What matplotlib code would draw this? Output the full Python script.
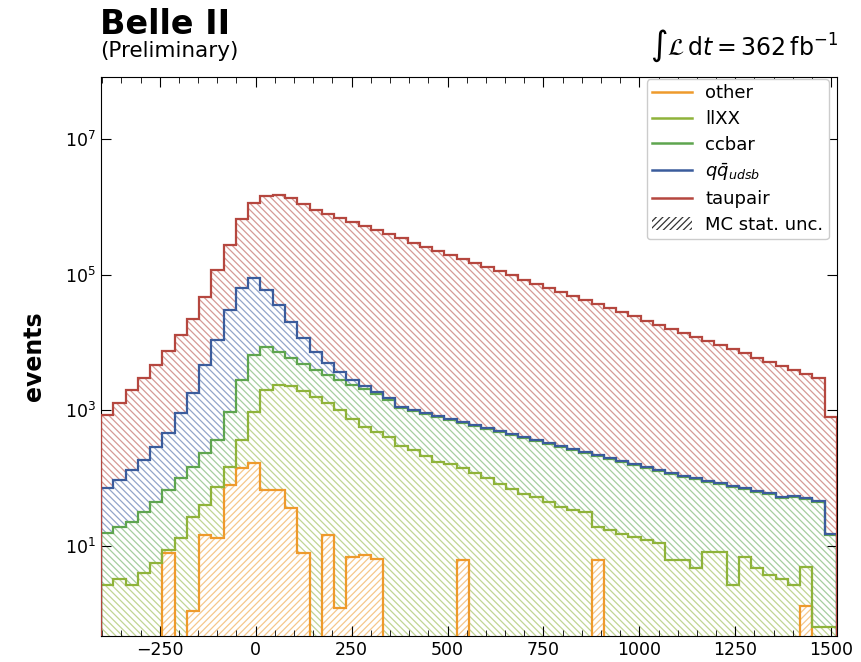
import numpy as np
import matplotlib
matplotlib.use("Agg")
import matplotlib.pyplot as plt
from matplotlib.lines import Line2D
from matplotlib.patches import Patch
from matplotlib.colors import to_rgb

# ---------------- data ----------------
bin_lo, bin_hi, n_bins = -403, 1515, 60

other = [0, 0, 0, 0, 0, 7.9, 0, 1.1, 14.5, 13.1,
         79, 141, 167, 67, 67, 36, 7.9, 0, 14.5, 1.2,
         6.9, 7.4, 6.4, 0, 0, 0, 0, 0, 0, 6.2,
         0, 0, 0, 0, 0, 0, 0, 0, 0, 0,
         6.2, 0, 0, 0, 0, 0, 0, 0, 0, 0,
         0, 0, 0, 0, 0, 0, 0, 1.3, 0, 0]

llxx = [2.7, 3.3, 2.7, 4.0, 5.6, 0.8, 13, 26, 26, 61,
        67, 225, 780, 1930, 2300, 2250, 1920, 1580, 1270, 1010,
        740, 560, 475, 405, 300, 260, 212, 173, 162, 135,
        119, 101, 82, 69, 58, 53, 44, 38, 34, 32,
        13, 17, 15, 13.6, 12.3, 11, 6.2, 6.2, 4.7, 8.2,
        8.2, 2.7, 6.9, 4.7, 3.7, 3.2, 2.7, 3.6, 0.64, 0.64]

ccbar = [13, 16, 20, 28, 39, 58, 88, 119, 195, 292,
         800, 2440, 5610, 6610, 4890, 3640, 2900, 2360, 2050, 1800,
         1620, 1500, 1270, 1030, 780, 715, 668, 622, 557, 508,
         467, 428, 396, 363, 331, 299, 273, 250, 225, 203,
         193, 175, 157, 142, 128, 116, 108, 97, 92, 79,
         74, 71, 62, 57, 55, 48, 50, 44, 44, 14]

qq = [56, 74, 109, 154, 244, 397, 815, 1660, 4450, 10500,
      29300, 61100, 83100, 51100, 28600, 14200, 6870, 3320, 1670, 870,
      440, 220, 130, 80, 40, 37, 33, 30, 27, 25,
      22, 20, 18, 16, 15, 13, 12, 11, 10, 9,
      8, 7, 6.5, 6, 5.5, 5, 4.5, 4, 3.5, 3.5,
      3, 3, 2.5, 2.5, 2, 2, 2, 2, 1.5, 0.5]

taupair = [783, 1190, 1870, 2820, 4390, 7060, 12000, 20500, 42400, 107000,
           245000, 601000, 1060000, 1390000, 1460000, 1340000, 1100000, 896000, 781000, 680000,
           593000, 516000, 449000, 390000, 340000, 296000, 257000, 224000, 194000, 169000,
           147000, 128000, 111500, 96800, 84300, 73200, 63800, 55400, 48200, 42000,
           36500, 31700, 27600, 24000, 20900, 18200, 15800, 13700, 12000, 10400,
           9030, 7850, 6830, 5930, 5160, 4490, 3890, 3390, 2940, 784]

labels = ["other", "llXX", "ccbar", r"$q\bar{q}_{udsb}$", "taupair"]
colors = ["#ee9a2c", "#8fb33a", "#5ea54f", "#3b5c9c", "#b5473f"]
hatches = ["/////", "\\\\\\\\\\", "\\\\\\\\\\", "\\\\\\\\\\", "\\\\\\\\\\"]

# ---------------- plot ----------------
plt.rcParams["font.family"] = ["DejaVu Sans"]
plt.rcParams["hatch.linewidth"] = 0.9
W, H = 861, 662
fig = plt.figure(figsize=(W / 100, H / 100), dpi=100)
ax = fig.add_axes([101 / W, 1 - 636 / H, (837 - 101) / W, (636 - 77) / H])

edges = np.linspace(bin_lo, bin_hi, n_bins + 1)
series = [np.array(s, float) for s in (other, llxx, ccbar, qq, taupair)]
cum = np.cumsum(np.vstack(series), axis=0)
tiny = 1e-3


def lighten(c, f):
    r = np.array(to_rgb(c))
    return tuple(1 - f * (1 - r))


# fills from top layer down so lower layers overwrite
for k in range(4, -1, -1):
    top = np.where(cum[k] > 0, cum[k], tiny)
    ax.stairs(top, edges, baseline=tiny, fill=True, facecolor="white",
              edgecolor=lighten(colors[k], 0.55), hatch=hatches[k], linewidth=0,
              zorder=1 + (4 - k) * 0.1)
for k in range(5):
    top = np.where(cum[k] > 0, cum[k], tiny)
    ax.stairs(top, edges, baseline=tiny, fill=False, edgecolor=colors[k],
              linewidth=1.6, zorder=3 + k * 0.01)

ax.set_yscale("log")
ax.set_xlim(bin_lo, bin_hi)
ax.set_ylim(0.47, 8.2e7)
ax.set_yticks([1e1, 1e3, 1e5, 1e7])
ax.yaxis.set_minor_locator(matplotlib.ticker.NullLocator())
ax.set_xticks([-250, 0, 250, 500, 750, 1000, 1250, 1500])
ax.xaxis.set_minor_locator(matplotlib.ticker.MultipleLocator(50))
ax.tick_params(which="both", direction="in", top=True, right=True, labelsize=12.5)
ax.tick_params(which="major", length=7)
ax.tick_params(which="minor", length=4)
ax.set_ylabel("events", fontsize=17, fontweight="bold", labelpad=14)

handles = [Line2D([], [], color=c, lw=1.8) for c in colors]
handles.append(Patch(facecolor="white", edgecolor="#333333", hatch="/////", linewidth=0))
ax.legend(handles, labels + ["MC stat. unc."], loc="upper right", fontsize=13,
          frameon=True, framealpha=1, edgecolor="#cccccc",
          bbox_to_anchor=(829 / W, 1 - 79 / H), bbox_transform=fig.transFigure,
          borderaxespad=0, labelspacing=0.42, borderpad=0.3,
          handlelength=2.2, handletextpad=0.75)

fig.text(100 / W, 1 - 24 / H, "Belle II", fontsize=24, fontweight="bold", ha="left", va="center")
fig.text(100 / W, 1 - 51 / H, "(Preliminary)", fontsize=15.5, ha="left", va="center")
fig.text(838 / W, 1 - 64 / H, r"$\int\mathcal{L}\,\mathrm{d}t = 362\,\mathrm{fb}^{-1}$",
         fontsize=17, ha="right", va="bottom")

fig.savefig("out.png", dpi=100)
